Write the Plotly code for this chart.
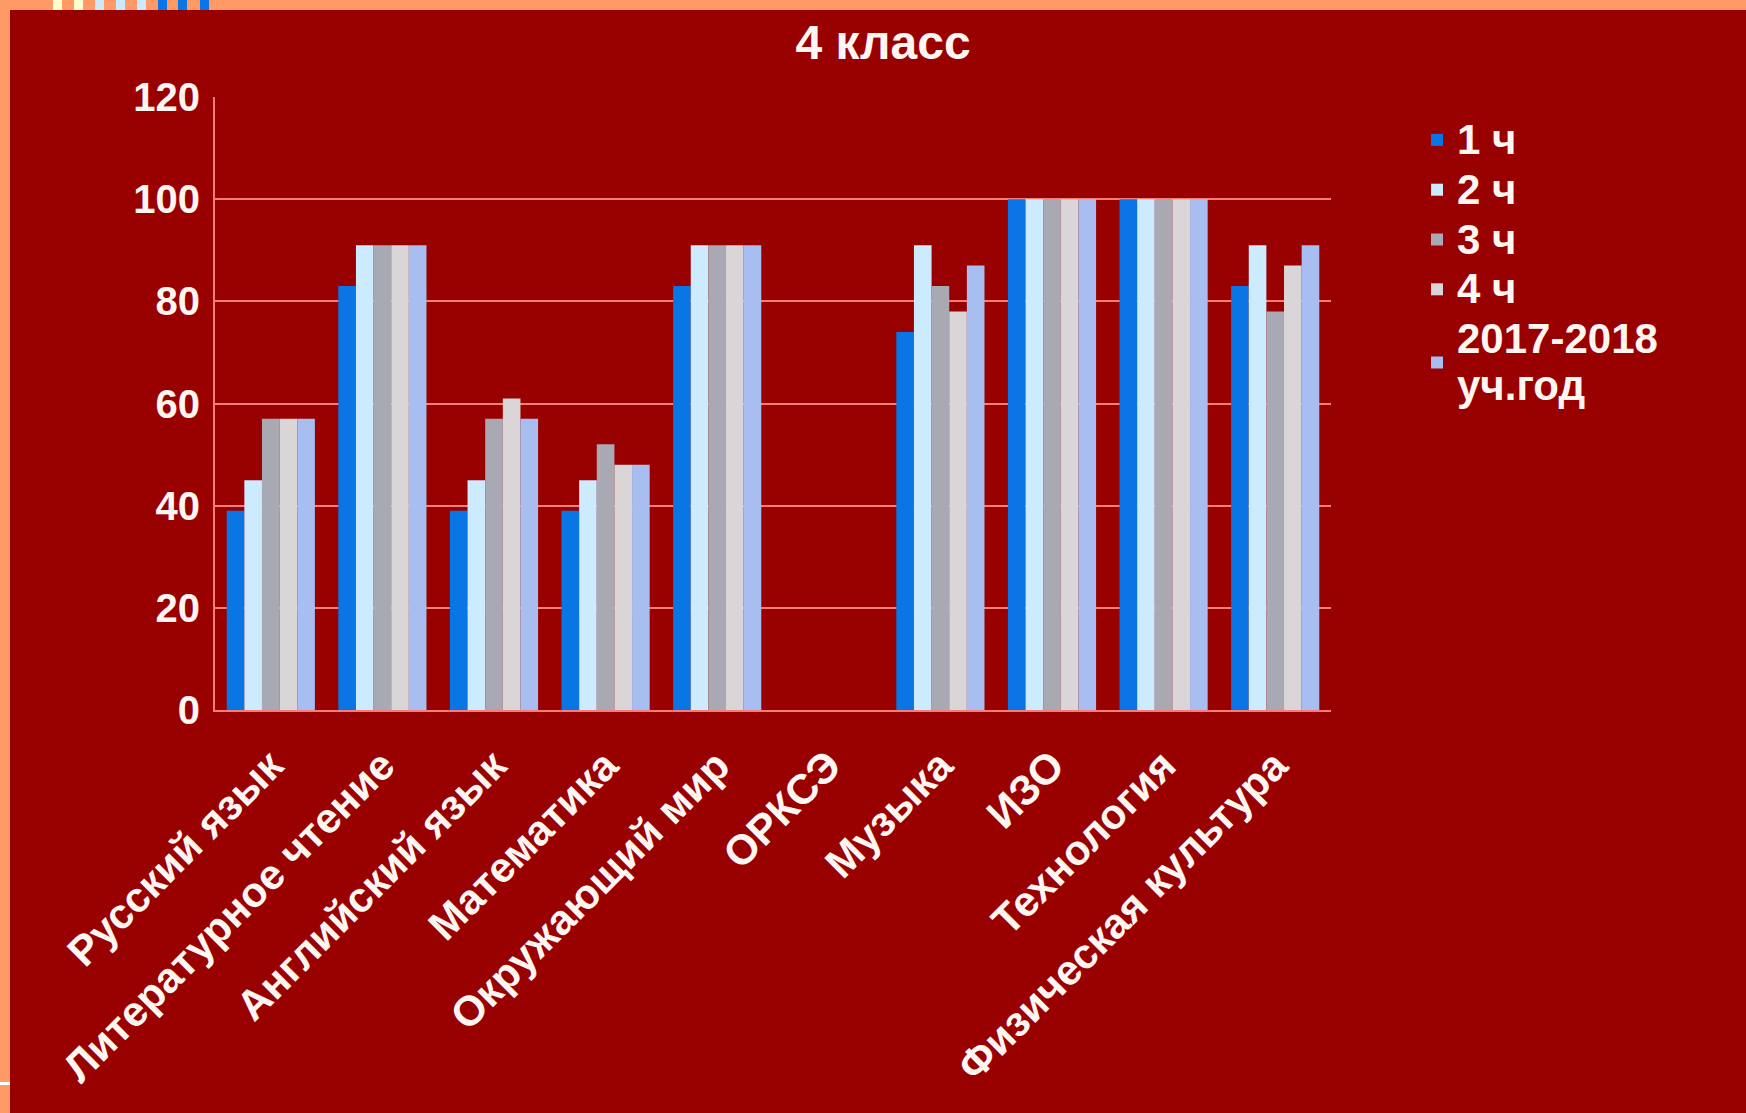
import plotly.graph_objects as go

categories = ["Русский язык", "Литературное чтение", "Английский язык", "Математика",
              "Окружающий мир", "ОРКСЭ", "Музыка", "ИЗО", "Технология", "Физическая культура"]
series_names = ["1 ч", "2 ч", "3 ч", "4 ч", "2017-2018<br>уч.год"]
q1 = [39, 83, 39, 39, 83, None, 74, 100, 100, 83]
q2 = [45, 91, 45, 45, 91, None, 91, 100, 100, 91]
q3 = [57, 91, 57, 52, 91, None, 83, 100, 100, 78]
q4 = [57, 91, 61, 48, 91, None, 78, 100, 100, 87]
year = [57, 91, 57, 48, 91, None, 87, 100, 100, 91]
colors = ["#0A76E6", "#CCEBFF", "#A9A9B4", "#DAD6D8", "#A8BDF0"]
y_ticks = [0, 20, 40, 60, 80, 100, 120]

W, H = 1746, 1113
L, R, T, B = 215, 1331, 97, 710   # plot area in pixels
PW, PH = R - L, B - T
FONT = "Arial, Liberation Sans, sans-serif"
TXT = "#FFF6F2"
GRID = "#F47F7A"

fig = go.Figure()
for name, vals, c in zip(series_names, [q1, q2, q3, q4, year], colors):
    label = "<br>".join('<span style="font-size:42px">%s</span>' % part for part in name.split("<br>"))
    fig.add_trace(go.Bar(x=categories, y=vals, name=label, marker=dict(color=c, line=dict(width=0))))


def px_rect(x0, y0, x1, y1, color):
    return dict(type="rect", xref="paper", yref="paper",
                x0=(x0 - L) / PW, x1=(x1 - L) / PW,
                y0=(B - y1) / PH, y1=(B - y0) / PH,
                fillcolor=color, line=dict(width=0), layer="below")


shapes = [px_rect(0, 0, 10, H, "#FF9966"), px_rect(0, 0, W, 10, "#FF9966"),
          px_rect(0, 1082, 10, 1085, "#FFFFFF")]
for x0, c in [(53, "#FFFFCC"), (74, "#FFFFCC"), (95, "#CCE8FF"), (116, "#CCE8FF"), (137, "#CCE8FF"),
              (158, "#0A76E6"), (178, "#0A76E6"), (200, "#0A76E6")]:
    shapes.append(px_rect(x0, 0, x0 + 9, 10, c))

fig.update_layout(
    width=W, height=H,
    paper_bgcolor="#990000", plot_bgcolor="#990000",
    margin=dict(l=L, r=W - R, t=T, b=H - B),
    barmode="group", bargap=0.21, bargroupgap=0,
    font=dict(family=FONT, color=TXT, size=38, weight="bold"),
    title=dict(text="4 класс", x=883 / W, xref="container", xanchor="center",
               y=1 - 42 / H, yref="container", yanchor="middle",
               font=dict(family=FONT, size=48, color=TXT, weight="bold")),
    legend=dict(x=(1417 - L) / PW, xanchor="left", y=(B - 110) / PH, yanchor="top",
                bgcolor="rgba(0,0,0,0)",
                font=dict(family=FONT, size=36, color=TXT, weight="bold"), itemwidth=30,
                tracegroupgap=0),
    shapes=shapes,
)
fig.update_yaxes(range=[0, 120], tickvals=y_ticks, showgrid=True, gridcolor=GRID, gridwidth=2,
                 showline=True, linecolor=GRID, linewidth=2, ticks="", ticklabelstandoff=5,
                 tickfont=dict(family=FONT, size=40, color=TXT, weight="bold"), zeroline=False)
fig.update_xaxes(tickangle=-45, showline=True, linecolor=GRID, linewidth=2, ticks="",
                 ticklabelstandoff=12,
                 tickfont=dict(family=FONT, size=42, color=TXT, weight="bold"))

fig.write_html("out.html", config={"displayModeBar": False},
               post_script="document.body.style.margin='0';document.body.style.overflow='hidden';")
